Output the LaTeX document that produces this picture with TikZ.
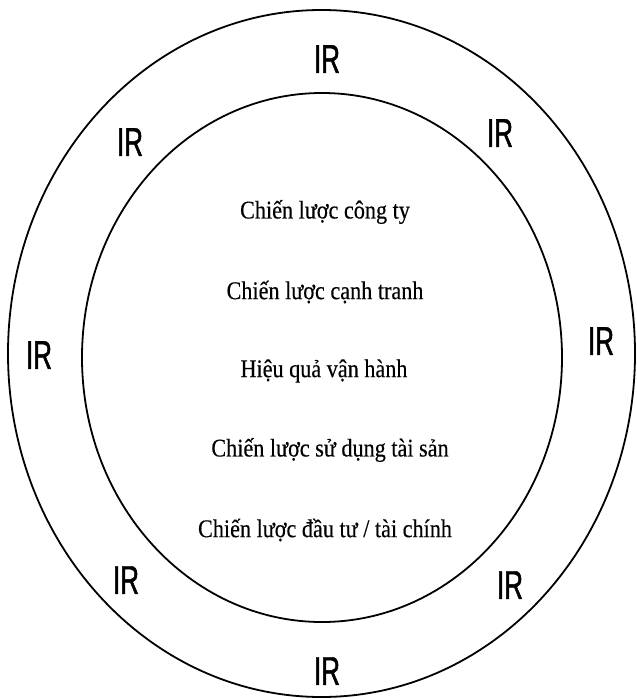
\documentclass[tikz,border=0pt]{standalone}
\usepackage{fontspec}
\newfontfamily\irfont[FakeStretch=0.65,FakeBold=1.2]{Liberation Sans}
\newfontfamily\txtfont[FakeStretch=0.87,FakeBold=0.3]{Liberation Serif}
\begin{document}
\begin{tikzpicture}[x=1pt,y=1pt,
  ring/.style={draw=black,line width=1.8pt},
  irlabel/.style={inner sep=0pt,font=\irfont\fontsize{40}{40}\selectfont},
  itemtext/.style={inner sep=0pt,font=\txtfont\fontsize{25.5}{26}\selectfont}]
\useasboundingbox (0,0) rectangle (637,-699);
\fill[white] (0,0) rectangle (637,-699);
\draw[ring] (321.5,-353.5) ellipse [x radius=313.5, y radius=343.5];
\draw[ring] (322,-357.5) ellipse [x radius=240, y radius=264.5];
\node[irlabel] (irt) at (327,-59) {IR};
\node[irlabel] (irtl) at (130,-142) {IR};
\node[irlabel] (irtr) at (500,-133) {IR};
\node[irlabel] (irl) at (39,-355) {IR};
\node[irlabel] (irr) at (601,-341) {IR};
\node[irlabel] (irbl) at (126,-580) {IR};
\node[irlabel] (irbr) at (510,-585) {IR};
\node[irlabel] (irb) at (327,-671) {IR};
\node[itemtext] (s1) at (325,-212) {Chiến lược công ty};
\node[itemtext] (s2) at (325,-292) {Chiến lược cạnh tranh};
\node[itemtext] (s3) at (324,-371) {Hiệu quả vận hành};
\node[itemtext] (s4) at (330,-450) {Chiến lược sử dụng tài sản};
\node[itemtext] (s5) at (325,-530) {Chiến lược đầu tư / tài chính};
\end{tikzpicture}
\end{document}
